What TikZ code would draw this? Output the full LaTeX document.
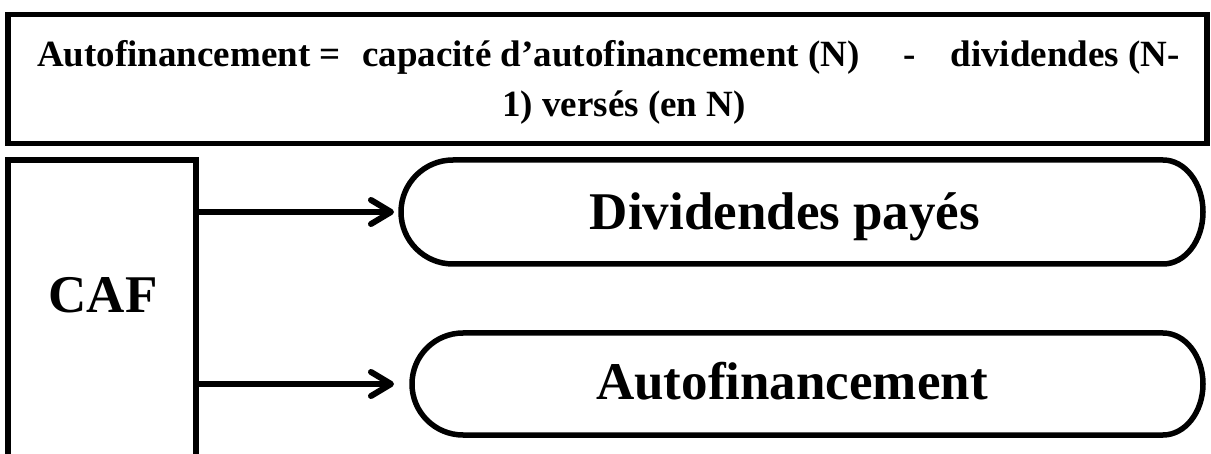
\documentclass[tikz,border=0pt]{standalone}
\usepackage{fontspec}
\setmainfont{Liberation Serif}
\usetikzlibrary{arrows.meta}

\begin{document}
\begin{tikzpicture}[x=1pt,y=-1pt,
  frame/.style={draw, line width=5.5pt},
  slot/.style={rectangle, inner sep=0pt, outer sep=0pt},
  headtxt/.style={font=\bfseries\fontsize{37}{40}\selectfont, inner sep=0pt},
  bigtxt/.style={font=\bfseries\fontsize{53}{60}\selectfont, inner sep=0pt, anchor=base},
  link/.style={line width=6pt, -{Straight Barb[round, length=20pt, width=24pt]}}
]
\useasboundingbox (0,0) rectangle (1211,454);
\clip (0,0) rectangle (1211,454);

% formula box
\node[slot, frame, minimum width=1199pt, minimum height=129pt] (formula) at (607.5,79) {};
\node[headtxt, anchor=base west] (f1) at (37,67) {Autofinancement =};
\node[headtxt, anchor=base west] (f2) at (362,67) {capacité d’autofinancement (N)};
\node[headtxt, anchor=base west] (f3) at (903,67) {-};
\node[headtxt, anchor=base east] (f4) at (1180,67) {dividendes (N-};
\node[headtxt, anchor=base] (f5) at (624,117) {1) versés (en N)};

% CAF box (runs past the lower edge)
\node[slot, frame, line width=6pt, minimum width=188pt, minimum height=340pt] (caf) at (102,330) {};
\node[bigtxt] (caftxt) at (103,313) {CAF};

% rounded boxes
\node[slot, minimum width=802pt, minimum height=104pt] (pay) at (802,212) {};
\draw[frame] (453,160) -- (1163,160)
  arc[start angle=-90, end angle=90, x radius=40, y radius=52]
  -- (453,264) arc[start angle=90, end angle=270, radius=52] -- cycle;
\node[bigtxt] (paytxt) at (785,230) {Dividendes payés};

\node[slot, minimum width=791pt, minimum height=102pt] (auto) at (807.5,384) {};
\draw[frame] (463,333) -- (1163,333)
  arc[start angle=-90, end angle=90, x radius=40, y radius=51]
  -- (463,435) arc[start angle=90, end angle=270, radius=51] -- cycle;
\node[bigtxt] (autotxt) at (792,400) {Autofinancement};

% arrows
\draw[link, shorten >=7pt] (caf.east |- pay.west) -- (pay.west);
\draw[link, shorten >=18pt] (caf.east |- auto.west) -- (auto.west);
\end{tikzpicture}
\end{document}
